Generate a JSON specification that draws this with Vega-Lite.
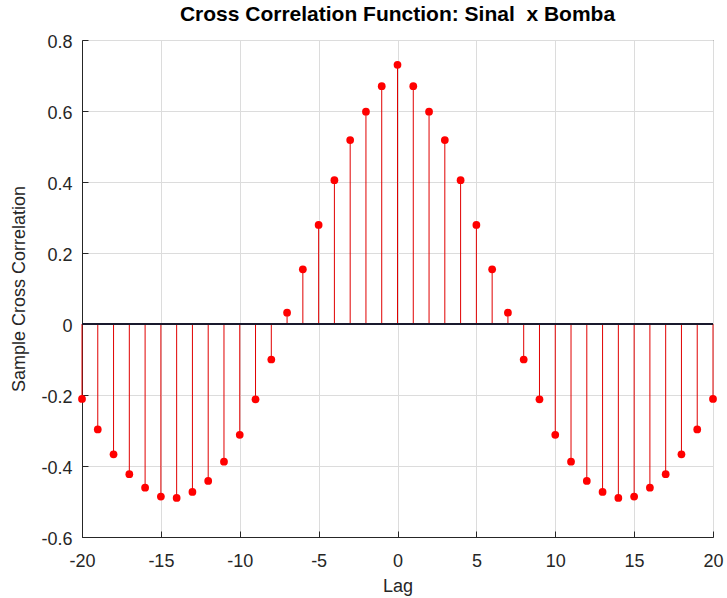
{
  "$schema": "https://vega.github.io/schema/vega-lite/v6.json",
  "width": 631,
  "height": 497,
  "autosize": "none",
  "padding": {"left": 82, "top": 40, "right": 14, "bottom": 61},
  "background": "white",
  "title": {
    "text": "Cross Correlation Function: Sinal\u00a0 x Bomba",
    "font": "Liberation Sans",
    "fontSize": 21,
    "fontWeight": "bold",
    "color": "#000000",
    "anchor": "middle",
    "offset": 8
  },
  "config": {
    "view": {"stroke": "#262626", "strokeWidth": 1},
    "axis": {
      "labelFont": "Liberation Sans",
      "labelFontSize": 18,
      "labelColor": "#262626",
      "titleFont": "Liberation Sans",
      "titleFontSize": 18,
      "titleFontWeight": "normal",
      "titleColor": "#262626",
      "domainColor": "#262626",
      "tickColor": "#262626",
      "tickSize": -6,
      "gridColor": "#dcdcdc",
      "gridWidth": 1
    }
  },
  "data": {
    "values": [
      {"lag": -20, "value": -0.211},
      {"lag": -19, "value": -0.297},
      {"lag": -18, "value": -0.367},
      {"lag": -17, "value": -0.423},
      {"lag": -16, "value": -0.461},
      {"lag": -15, "value": -0.486},
      {"lag": -14, "value": -0.49},
      {"lag": -13, "value": -0.473},
      {"lag": -12, "value": -0.442},
      {"lag": -11, "value": -0.388},
      {"lag": -10, "value": -0.312},
      {"lag": -9, "value": -0.212},
      {"lag": -8, "value": -0.1},
      {"lag": -7, "value": 0.032},
      {"lag": -6, "value": 0.154},
      {"lag": -5, "value": 0.279},
      {"lag": -4, "value": 0.405},
      {"lag": -3, "value": 0.518},
      {"lag": -2, "value": 0.598},
      {"lag": -1, "value": 0.67},
      {"lag": 0, "value": 0.73},
      {"lag": 1, "value": 0.67},
      {"lag": 2, "value": 0.598},
      {"lag": 3, "value": 0.518},
      {"lag": 4, "value": 0.405},
      {"lag": 5, "value": 0.279},
      {"lag": 6, "value": 0.154},
      {"lag": 7, "value": 0.032},
      {"lag": 8, "value": -0.1},
      {"lag": 9, "value": -0.212},
      {"lag": 10, "value": -0.312},
      {"lag": 11, "value": -0.388},
      {"lag": 12, "value": -0.442},
      {"lag": 13, "value": -0.473},
      {"lag": 14, "value": -0.49},
      {"lag": 15, "value": -0.486},
      {"lag": 16, "value": -0.461},
      {"lag": 17, "value": -0.423},
      {"lag": 18, "value": -0.367},
      {"lag": 19, "value": -0.297},
      {"lag": 20, "value": -0.211}
    ]
  },
  "encoding": {
    "x": {
      "field": "lag",
      "type": "quantitative",
      "scale": {"domain": [-20, 20], "nice": false, "zero": false},
      "axis": {
        "title": "Lag",
        "values": [-20, -15, -10, -5, 0, 5, 10, 15, 20],
        "labelExpr": "(datum.value < 0 ? '-' : '') + format(abs(datum.value), 'd')",
        "labelPadding": 21,
        "titlePadding": 7,
        "labelFlush": false
      }
    },
    "y": {
      "field": "value",
      "type": "quantitative",
      "scale": {"domain": [-0.6, 0.8], "nice": false},
      "axis": {
        "title": "Sample Cross Correlation",
        "values": [-0.6, -0.4, -0.2, 0, 0.2, 0.4, 0.6, 0.8],
        "labelExpr": "(datum.value < 0 ? '-' : '') + format(abs(datum.value), '.1~f')",
        "labelPadding": 16,
        "labelOffset": 2,
        "titlePadding": 12,
        "labelFlush": false
      }
    }
  },
  "layer": [
    {
      "mark": {"type": "rule", "color": "#e00000", "strokeWidth": 1},
      "encoding": {"y2": {"datum": 0}}
    },
    {
      "mark": {"type": "rule", "color": "#1a1a2e", "strokeWidth": 1.5},
      "encoding": {"x": {"datum": -20}, "x2": {"datum": 20}, "y": {"datum": 0}}
    },
    {
      "mark": {"type": "circle", "color": "#ff0000", "opacity": 1, "size": 60}
    }
  ]
}
